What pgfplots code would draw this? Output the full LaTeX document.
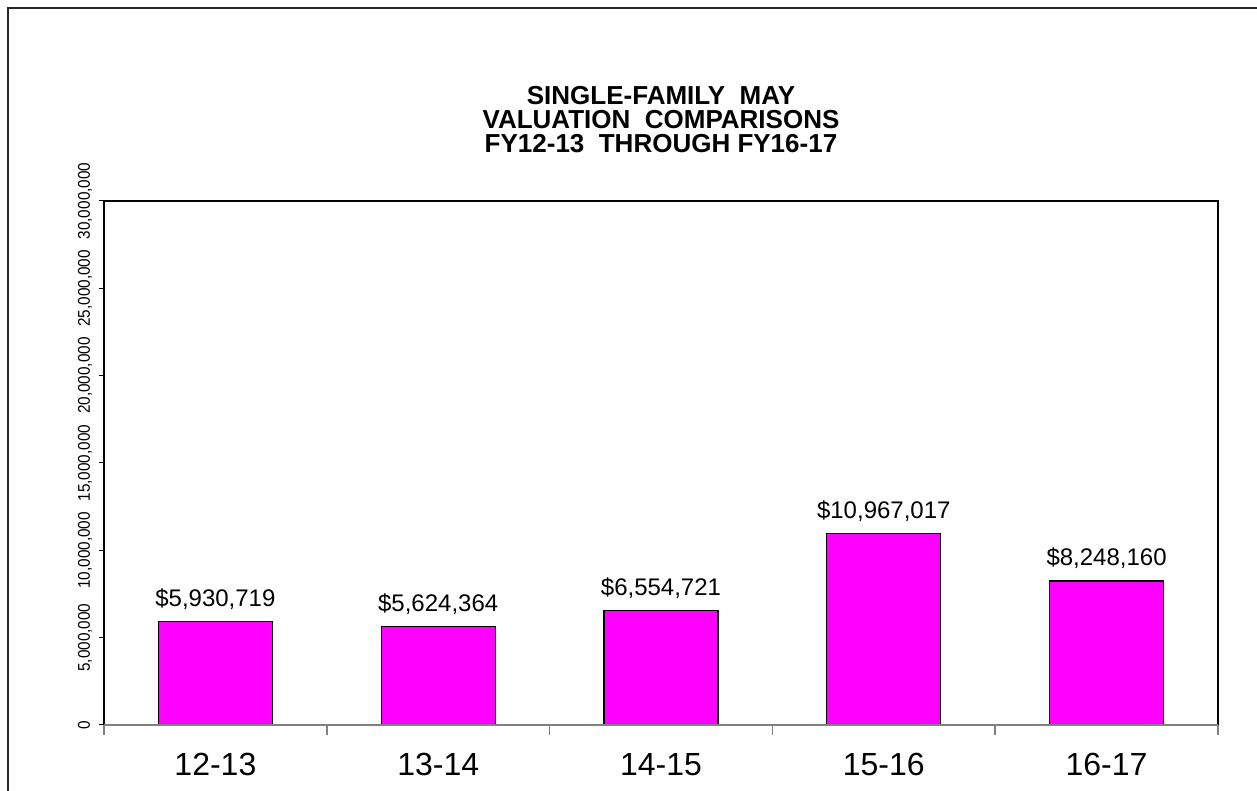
\documentclass[border=0pt]{standalone}
\usepackage{pgfplots}
\pgfplotsset{compat=1.18}
\usepackage{fontspec}
\setmainfont{Liberation Sans}
\newfontfamily\ticknarrow[FakeStretch=0.9]{Liberation Sans}
\definecolor{barmag}{RGB}{255,0,255}
\begin{document}
\begin{tikzpicture}
\begin{axis}[
  width=1114pt, height=524pt, scale only axis,
  xmin=-0.5, xmax=4.5, ymin=0, ymax=30000000,
  clip=false,
  axis line style={draw=none},
  ybar, bar width=114pt,
  xtick={0,1,2,3,4}, xticklabels={12-13,13-14,14-15,15-16,16-17},
  minor xtick={-0.5,0.5,1.5,2.5,3.5,4.5},
  major x tick style={draw=none},
  minor x tick style={draw=gray, line width=1.5pt},
  minor tick length=10pt,
  major tick length=5pt,
  tick align=outside,
  xtick pos=bottom, ytick pos=left,
  ytick={0,5000000,10000000,15000000,20000000,25000000,30000000},
  major y tick style={draw=black, line width=1pt},
  scaled y ticks=false,
  yticklabel style={rotate=90, anchor=base, inner sep=0pt, yshift=9pt, font=\ticknarrow\fontsize{17}{17}\selectfont, /pgf/number format/fixed, /pgf/number format/1000 sep={,}},
  /pgf/number format/assume math mode=true,
  xticklabel style={anchor=base, yshift=-46pt, font=\fontsize{32}{32}\selectfont},
  point meta=explicit symbolic,
  nodes near coords,
  every node near coord/.append style={anchor=base, yshift=15pt, inner sep=0pt, font=\fontsize{24}{24}\selectfont, black},
  title={SINGLE-FAMILY\ \ MAY\\VALUATION\ \ COMPARISONS\\FY12-13\ \ THROUGH FY16-17},
  title style={align=center, font=\bfseries\fontsize{26}{24}\selectfont, at={(0.5,1)}, anchor=south, inner sep=0pt, yshift=42pt},
]
\addplot[fill=barmag, draw=black, line width=1.2pt] coordinates {
  (0,5930719) [{\$5,930,719}]
  (1,5624364) [{\$5,624,364}]
  (2,6554721) [{\$6,554,721}]
  (3,10967017) [{\$10,967,017}]
  (4,8248160) [{\$8,248,160}]
};
\draw[black, line width=1.5pt] (rel axis cs:0,0) -- (rel axis cs:0,1) -- (rel axis cs:1,1) -- (rel axis cs:1,0);
\draw[gray, line width=1.5pt] (rel axis cs:0,0) -- (rel axis cs:1,0);
\coordinate (sw) at (rel axis cs:0,0);
\end{axis}
\draw[line width=1.5pt, black!85] ([shift={(-96pt,-66pt)}]sw) -- ([shift={(-96pt,717pt)}]sw) -- ([shift={(1153pt,717pt)}]sw);
\pgfresetboundingbox
\useasboundingbox ([shift={(-104pt,-66pt)}]sw) rectangle ([shift={(1153pt,725pt)}]sw);
\end{tikzpicture}
\end{document}
